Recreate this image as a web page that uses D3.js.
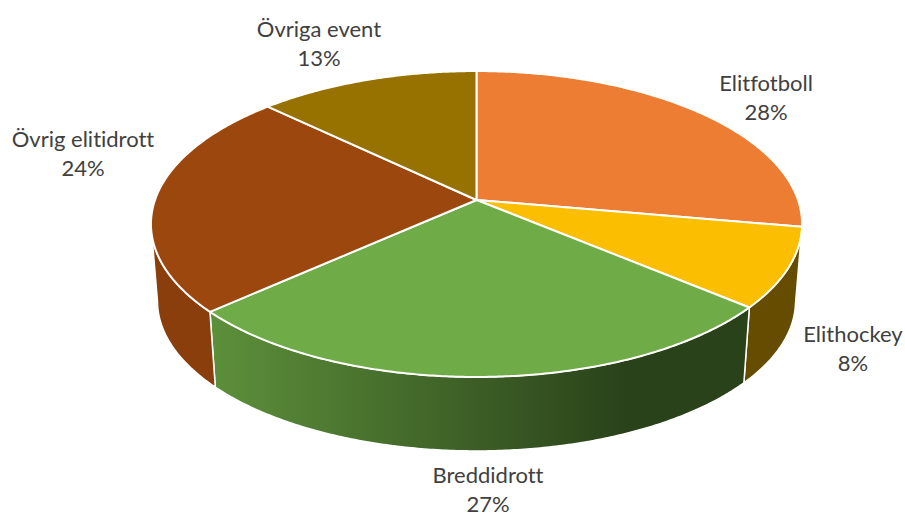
<!DOCTYPE html>
<html><head><meta charset="utf-8">
<script src="https://cdnjs.cloudflare.com/ajax/libs/d3/7.8.5/d3.min.js"></script>
<style>html,body{margin:0;padding:0;background:#fff}svg{display:block}text{font-family:Lato,Carlito,sans-serif;font-size:22px;fill:#404040;text-anchor:middle;font-variant-ligatures:none}</style>
</head><body><div id="c"></div>
<script>
const categories=["Elitfotboll","Elithockey","Breddidrott","Övrig elitidrott","Övriga event"];
const shares=[27.8,8.4,27.1,23.9,12.8];
const topColors=["#EC7D32","#FBBE00","#6FAC47","#9C470D","#977200"];
const wallColors=["#8E4B1D","#664C00","url(#greenWall)","#8A3E0C","#5C4500"];
const labelCentres=[[766,84],[853,335],[488,476],[83,140],[319,30]];
const W=905,H=514;
const svg=d3.select("#c").append("svg").attr("width",W).attr("height",H);
const grad=svg.append("defs").append("linearGradient").attr("id","greenWall").attr("gradientUnits","userSpaceOnUse")
  .attr("x1",215).attr("x2",625).attr("y1",0).attr("y2",0);
grad.append("stop").attr("offset",0).attr("stop-color","#5C8F3A");
grad.append("stop").attr("offset",1).attr("stop-color","#2A421A");
const pie=d3.pie().sort(null).value(d=>d);
const arcs=pie(shares);
const k=0.157;
function project(theta,level){
  const u=Math.sin(theta),v=-Math.cos(theta),w=1-k*v;
  const s=level?0.98:1,cy=level?277.5:200;
  return [476.5+321.5*s*u/w, cy+149.2*s*v/w];
}
const line=d3.line();
const step=Math.PI/180/2;
function samples(a,b){const n=Math.max(2,Math.ceil((b-a)/step));return d3.range(n+1).map(i=>a+(b-a)*i/n);}
const visA=99*Math.PI/180,visB=261*Math.PI/180;
const gWalls=svg.append("g"),gTops=svg.append("g");
arcs.forEach((d,i)=>{
  const a=Math.max(d.startAngle,visA),b=Math.min(d.endAngle,visB);
  if(b>a){
    const ts=samples(a,b);
    const pts=ts.map(t=>project(t,0)).concat(ts.slice().reverse().map(t=>project(t,1)));
    gWalls.append("path").attr("d",line(pts)+"Z").attr("fill",wallColors[i]).attr("stroke","#fff").attr("stroke-width",1.5).attr("stroke-linejoin","round");
  }
  const rim=samples(d.startAngle,d.endAngle).map(t=>project(t,0));
  gTops.append("path").attr("d",line([[476.5,200]].concat(rim))+"Z").attr("fill",topColors[i]).attr("stroke","#fff").attr("stroke-width",2).attr("stroke-linejoin","round");
});
const gLabels=svg.append("g");
categories.forEach((c,i)=>{
  const [x,y]=labelCentres[i];
  gLabels.append("text").attr("x",x).attr("y",y+7).text(c);
  gLabels.append("text").attr("x",x).attr("y",y+36).text(Math.round(shares[i])+"%");
});
</script></body></html>
